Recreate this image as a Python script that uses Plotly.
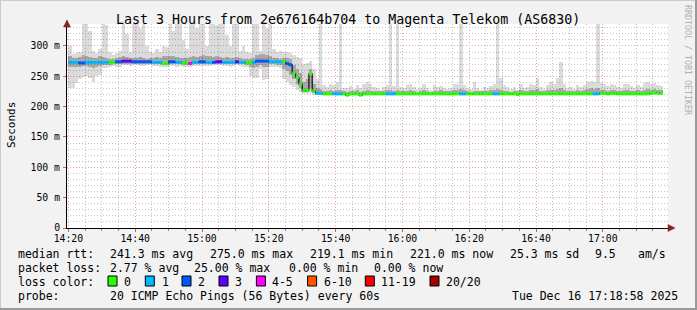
import plotly.graph_objects as go
import pandas as pd

# ---------------- data (one value per minute, starting 14:20) ----------------
start_time = "2025-12-16 14:20:00"
axis_start = "2025-12-16 14:19:35"
axis_end = "2025-12-16 17:19:30"

median_ms = [
    273, 273, 273, 272, 272, 273, 273, 273, 273, 273,
    273, 273, 273, 273, 274, 274, 275, 275, 275, 274,
    274, 274, 274, 274, 274, 273, 273, 273, 271, 271,
    274, 274, 273, 273, 272, 272, 271, 273, 273, 274,
    274, 273, 273, 273, 274, 274, 273, 273, 273, 273,
    274, 273, 273, 272, 272, 273, 275, 275, 275, 275,
    274, 274, 274, 274, 274, 271, 269, 255, 248, 237,
    226, 227, 254, 226, 222, 222, 221, 221, 221, 221,
    221, 221, 221, 219, 221, 221, 221, 219, 221, 221,
    221, 221, 221, 221, 221, 221, 221, 221, 221, 221,
    221, 221, 221, 221, 221, 221, 221, 221, 221, 221,
    221, 221, 221, 221, 221, 221, 221, 221, 221, 221,
    221, 221, 221, 221, 221, 221, 221, 221, 221, 221,
    221, 221, 221, 221, 220, 221, 221, 221, 221, 221,
    221, 221, 221, 221, 221, 221, 221, 221, 221, 221,
    221, 221, 221, 221, 221, 221, 221, 221, 221, 222,
    222, 221, 222, 222, 221, 221, 221, 221, 221, 221,
    221, 221, 221, 221, 222, 223, 223, 222,
]
loss_count = [
    1, 1, 1, 2, 2, 1, 1, 1, 1, 1,
    1, 1, 0, 0, 2, 2, 3, 3, 3, 2,
    2, 2, 2, 2, 2, 1, 1, 1, 0, 0,
    2, 2, 1, 1, 0, 0, 4, 1, 1, 2,
    2, 1, 1, 2, 3, 3, 1, 1, 1, 1,
    3, 1, 1, 0, 0, 1, 2, 2, 2, 2,
    1, 1, 1, 1, 0, 2, 2, 0, 0, 0,
    0, 0, 0, 0, 1, 1, 0, 0, 0, 1,
    1, 1, 0, 0, 0, 0, 0, 0, 0, 0,
    0, 0, 0, 0, 0, 1, 1, 1, 0, 0,
    0, 0, 0, 0, 0, 0, 0, 0, 0, 0,
    0, 0, 0, 0, 0, 0, 0, 1, 1, 0,
    0, 0, 0, 0, 0, 0, 0, 1, 1, 0,
    0, 0, 0, 0, 0, 0, 0, 0, 0, 0,
    0, 0, 0, 0, 0, 0, 0, 0, 0, 0,
    0, 0, 0, 0, 0, 0, 0, 1, 1, 0,
    0, 0, 0, 0, 0, 0, 0, 0, 0, 0,
    0, 0, 0, 0, 0, 0, 0, 0,
]
smoke_min = [
    231, 231, 239, 245, 249, 250, 248, 240, 250, 252,
    263, 263, 266, 267, 266, 266, 268, 268, 267, 268,
    268, 267, 267, 268, 268, 267, 267, 266, 266, 266,
    267, 267, 266, 267, 266, 266, 265, 267, 267, 267,
    267, 267, 267, 268, 268, 268, 267, 267, 266, 267,
    268, 267, 266, 265, 250, 247, 248, 262, 244, 245,
    266, 266, 265, 264, 245, 240, 235, 232, 228, 224,
    222, 221, 222, 220, 220, 220, 220, 220, 220, 220,
    220, 220, 220, 218, 220, 220, 220, 218, 220, 220,
    220, 220, 220, 220, 220, 220, 220, 220, 220, 220,
    220, 220, 220, 220, 220, 220, 220, 220, 220, 220,
    220, 220, 220, 220, 220, 220, 220, 220, 220, 220,
    220, 220, 220, 220, 220, 220, 220, 220, 220, 220,
    220, 220, 220, 220, 219, 220, 220, 220, 220, 220,
    220, 220, 220, 220, 220, 220, 220, 220, 220, 220,
    220, 220, 220, 220, 220, 220, 220, 220, 220, 220,
    220, 220, 220, 220, 220, 220, 220, 220, 220, 220,
    220, 220, 220, 220, 220, 220, 220, 220,
]
smoke_q1 = [
    265, 266, 266, 266, 267, 267, 266, 263, 266, 267,
    268, 268, 269, 270, 270, 270, 271, 271, 271, 271,
    271, 270, 270, 271, 271, 270, 270, 270, 269, 269,
    271, 271, 270, 270, 269, 269, 268, 270, 270, 271,
    271, 270, 270, 271, 271, 271, 270, 270, 270, 270,
    271, 270, 270, 269, 266, 264, 266, 268, 265, 266,
    270, 270, 269, 268, 262, 258, 252, 245, 238, 230,
    224, 224, 230, 223, 221, 221, 221, 221, 221, 221,
    221, 221, 221, 220, 221, 221, 221, 220, 221, 221,
    221, 221, 221, 221, 221, 221, 221, 221, 221, 221,
    221, 221, 221, 221, 221, 221, 221, 221, 221, 221,
    221, 221, 221, 221, 221, 221, 221, 221, 221, 221,
    221, 221, 221, 221, 221, 221, 221, 221, 221, 221,
    221, 221, 221, 221, 220, 221, 221, 221, 221, 221,
    221, 221, 221, 221, 221, 221, 221, 221, 221, 221,
    221, 221, 221, 221, 221, 221, 221, 221, 221, 221,
    221, 221, 221, 221, 221, 221, 221, 221, 221, 221,
    221, 221, 221, 221, 221, 222, 222, 221,
]
smoke_q3 = [
    283, 281, 280, 282, 285, 284, 282, 280, 281, 283,
    282, 280, 279, 278, 280, 282, 283, 282, 281, 280,
    281, 282, 280, 279, 281, 280, 282, 280, 283, 284,
    284, 283, 282, 281, 281, 280, 282, 283, 282, 283,
    285, 284, 283, 282, 283, 282, 281, 282, 280, 281,
    282, 280, 279, 278, 278, 280, 285, 286, 287, 285,
    283, 281, 280, 279, 280, 280, 278, 268, 262, 255,
    240, 245, 262, 238, 230, 229, 226, 225, 227, 226,
    228, 227, 225, 224, 226, 225, 227, 224, 226, 228,
    226, 225, 226, 225, 226, 228, 227, 226, 227, 225,
    226, 225, 227, 226, 224, 225, 227, 225, 224, 226,
    225, 227, 225, 226, 225, 227, 228, 229, 227, 225,
    224, 226, 225, 226, 225, 226, 227, 228, 229, 228,
    226, 225, 224, 226, 225, 227, 225, 226, 228, 227,
    229, 226, 225, 227, 228, 227, 229, 230, 227, 225,
    226, 225, 227, 226, 228, 229, 230, 229, 231, 228,
    227, 226, 228, 227, 226, 225, 227, 228, 226, 225,
    227, 226, 228, 229, 228, 229, 228, 227,
]
smoke_max = [
    300, 286, 288, 290, 340, 340, 325, 292, 288, 295,
    340, 335, 290, 285, 288, 292, 340, 320, 290, 340,
    340, 330, 340, 300, 290, 288, 295, 290, 300, 298,
    340, 325, 340, 340, 310, 295, 340, 340, 330, 340,
    340, 300, 340, 340, 335, 340, 340, 318, 300, 340,
    340, 292, 300, 290, 288, 340, 340, 292, 340, 330,
    340, 295, 290, 292, 290, 290, 288, 285, 282, 280,
    270, 272, 275, 262, 245, 340, 236, 232, 238, 235,
    240, 340, 231, 230, 234, 229, 236, 231, 238, 240,
    237, 232, 230, 228, 233, 236, 340, 234, 340, 232,
    231, 235, 237, 233, 229, 231, 238, 230, 228, 236,
    232, 234, 230, 229, 231, 237, 238, 340, 236, 230,
    229, 241, 231, 228, 232, 231, 234, 237, 340, 248,
    236, 233, 229, 232, 228, 237, 231, 233, 238, 235,
    247, 232, 229, 236, 241, 238, 247, 274, 238, 231,
    233, 229, 235, 232, 236, 240, 242, 241, 340, 239,
    237, 234, 238, 236, 233, 231, 237, 238, 234, 230,
    235, 233, 239, 240, 238, 239, 236, 234,
]

loss_labels = ["0", "1", "2", "3", "4-5", "6-10", "11-19", "20/20"]
loss_colors = ["#26ff00", "#00b8ff", "#0059ff", "#5e00ff", "#ff00ff",
               "#ff5500", "#ff0000", "#a10000"]
loss_upper = [0, 1, 2, 3, 5, 10, 19, 20]

y_tick_vals = [0, 50, 100, 150, 200, 250, 300]
y_tick_text = ["0", "50 m", "100 m", "150 m", "200 m", "250 m", "300 m"]

title_text = "Last 3 Hours from 2e676164b704 to Magenta Telekom (AS6830)"
rtt_label = "median rtt:"
rtt_stats = ["241.3 ms avg", "275.0 ms max", "219.1 ms min", "221.0 ms now",
             "25.3 ms sd", "9.5", "am/s"]
loss_label = "packet loss:"
loss_stats = ["2.77 % avg", "25.00 % max", "0.00 % min", "0.00 % now"]
color_label = "loss color:"
probe_label = "probe:"
probe_text = "20 ICMP Echo Pings (56 Bytes) every 60s"
stamp_text = "Tue Dec 16 17:18:58 2025"
watermark = "RRDTOOL / TOBI OETIKER"
y_title = "Seconds"

# ---------------- geometry helpers (pixel -> paper) ----------------
W, H = 697, 310
L, R, T, B = 67, 668, 24, 228
PW, PH = R - L, B - T


def px(x):
    return (x - L) / PW


def py(y):
    return (B - y) / PH


FONT = "DejaVu Sans Mono"
t0 = pd.Timestamp(start_time)
n = len(median_ms)
starts = [t0 + pd.Timedelta(minutes=i) for i in range(n)]
ends = [t0 + pd.Timedelta(minutes=i + 1) for i in range(n)]
centers = [t0 + pd.Timedelta(seconds=60 * i + 30) for i in range(n)]

fig = go.Figure()

# smoke: outer (min..max) and inner (q1..q3), translucent so the grid shows through
fig.add_trace(go.Bar(
    x=centers, y=[hi - lo for lo, hi in zip(smoke_min, smoke_max)], base=smoke_min,
    width=60000, marker=dict(color="rgba(0,0,0,0.14)", line=dict(width=0)),
    hoverinfo="skip", showlegend=False))
fig.add_trace(go.Bar(
    x=centers, y=[hi - lo for lo, hi in zip(smoke_q1, smoke_q3)], base=smoke_q1,
    width=60000, marker=dict(color="rgba(0,0,0,0.23)", line=dict(width=0)),
    hoverinfo="skip", showlegend=False))

# thin dark median step line
fig.add_trace(go.Scatter(
    x=starts + [ends[-1]], y=median_ms + [median_ms[-1]],
    mode="lines", line=dict(color="#101010", width=1.2, shape="hv"),
    hoverinfo="skip", showlegend=False))


def loss_class(c):
    for k, up in enumerate(loss_upper):
        if c <= up:
            return k
    return len(loss_upper) - 1


for k, col in enumerate(loss_colors):
    xs, ys = [], []
    for i in range(n):
        if loss_class(loss_count[i]) == k:
            xs += [starts[i], ends[i], None]
            ys += [median_ms[i], median_ms[i], None]
    if xs:
        fig.add_trace(go.Scatter(
            x=xs, y=ys, mode="lines", line=dict(color=col, width=3),
            hoverinfo="skip", showlegend=False))

grid_major_red = "#eba3a3"
grid_minor = "#c4c4c4"
dash = "1px,2px"

fig.update_layout(
    width=W, height=H,
    margin=dict(l=L, r=W - R, t=T, b=H - B, pad=0),
    paper_bgcolor="#f2f2f2", plot_bgcolor="#ffffff",
    barmode="overlay", bargap=0,
    font=dict(family=FONT, size=10, color="#000000"),
    showlegend=False,
    xaxis=dict(
        type="date", range=[axis_start, axis_end],
        tick0="2025-12-16 14:20:00", dtick=20 * 60 * 1000, tickformat="%H:%M",
        showgrid=True, gridcolor=grid_major_red, griddash=dash, gridwidth=1,
        minor=dict(dtick=5 * 60 * 1000, showgrid=True, gridcolor=grid_minor,
                   griddash=dash, ticks="outside", ticklen=2, tickcolor="#888888"),
        ticks="outside", ticklen=3, tickcolor="#d06060",
        ticklabelstandoff=-2,
        showline=True, linecolor="#000000", linewidth=1,
        zeroline=False, tickfont=dict(family=FONT, size=9.8),
        fixedrange=True,
    ),
    yaxis=dict(
        range=[0, PH * 340.0 / 206.3], tickvals=y_tick_vals, ticktext=y_tick_text,
        showgrid=True, gridcolor=grid_major_red, griddash=dash, gridwidth=1,
        minor=dict(dtick=10, showgrid=True, gridcolor=grid_minor, griddash=dash),
        ticks="outside", ticklen=3, tickcolor="#d06060",
        ticklabelstandoff=1,
        showline=True, linecolor="#000000", linewidth=1,
        zeroline=False, tickfont=dict(family=FONT, size=9.8),
        fixedrange=True,
    ),
)

ann = []


def text(x, y, s, size=11.5, xanchor="left", color="#000000", angle=0):
    ann.append(dict(x=px(x), y=py(y), xref="paper", yref="paper", text=s,
                    showarrow=False, xanchor=xanchor, yanchor="middle",
                    textangle=angle, font=dict(family=FONT, size=size, color=color)))


text(347.5, 19, title_text, size=13.3, xanchor="center")
text(11, 125, y_title, size=11, xanchor="center", angle=-90)
text(688, 60, watermark, size=8.3, xanchor="center", color="#b0b0b0", angle=90)

text(16, 254.3, rtt_label)
for xpos, s in zip([107.6, 207.5, 307.5, 407.5, 507.5, 593, 635.5], rtt_stats):
    text(xpos, 254.3, s)
text(16, 268.3, loss_label)
for xpos, s in zip([107.6, 192.4, 286.7, 372.4], loss_stats):
    text(xpos, 268.3, s)
text(16, 282.3, color_label)
sq_x = [108, 145.3, 182, 219, 256.4, 307.6, 365.3, 430]
lab_x = [122, 159.6, 196.4, 233, 270, 322, 379, 444.4]
shapes = []
for sx, lx, col, lab in zip(sq_x, lab_x, loss_colors, loss_labels):
    shapes.append(dict(type="rect", xref="paper", yref="paper",
                       x0=px(sx), x1=px(sx + 9), y0=py(286), y1=py(276),
                       fillcolor=col, line=dict(color="#000000", width=1)))
    text(lx, 282.3, lab)
text(16, 296, probe_label)
text(107.6, 296, probe_text)
text(680, 296, stamp_text, xanchor="right")

# axis arrows (dark red)
arrow = "#8b2020"
shapes.append(dict(type="line", xref="paper", yref="paper",
                   x0=0, x1=0, y0=1, y1=py(21), line=dict(color="#000000", width=1)))
shapes.append(dict(type="path", xref="paper", yref="paper",
                   path=f"M {px(63.5)} {py(27)} L {px(70.5)} {py(27)} L {px(67)} {py(20)} Z",
                   fillcolor=arrow, line=dict(color=arrow, width=0.5)))
shapes.append(dict(type="line", xref="paper", yref="paper",
                   x0=1, x1=px(672), y0=0, y1=0, line=dict(color="#000000", width=1)))
shapes.append(dict(type="path", xref="paper", yref="paper",
                   path=f"M {px(668)} {py(224.5)} L {px(668)} {py(231.5)} L {px(675)} {py(228)} Z",
                   fillcolor=arrow, line=dict(color=arrow, width=0.5)))
# frame shading
shapes.append(dict(type="line", xref="paper", yref="paper",
                   x0=px(0), x1=px(697), y0=py(0.5), y1=py(0.5),
                   line=dict(color="#cbcbcb", width=1)))
shapes.append(dict(type="line", xref="paper", yref="paper",
                   x0=px(0.5), x1=px(0.5), y0=py(0), y1=py(310),
                   line=dict(color="#cbcbcb", width=1)))
shapes.append(dict(type="line", xref="paper", yref="paper",
                   x0=px(696), x1=px(696), y0=py(0), y1=py(310),
                   line=dict(color="#999999", width=2)))
shapes.append(dict(type="line", xref="paper", yref="paper",
                   x0=px(0), x1=px(697), y0=py(309), y1=py(309),
                   line=dict(color="#999999", width=2)))

fig.update_layout(annotations=ann, shapes=shapes)
fig.write_html("out.html", config={"displayModeBar": False})
